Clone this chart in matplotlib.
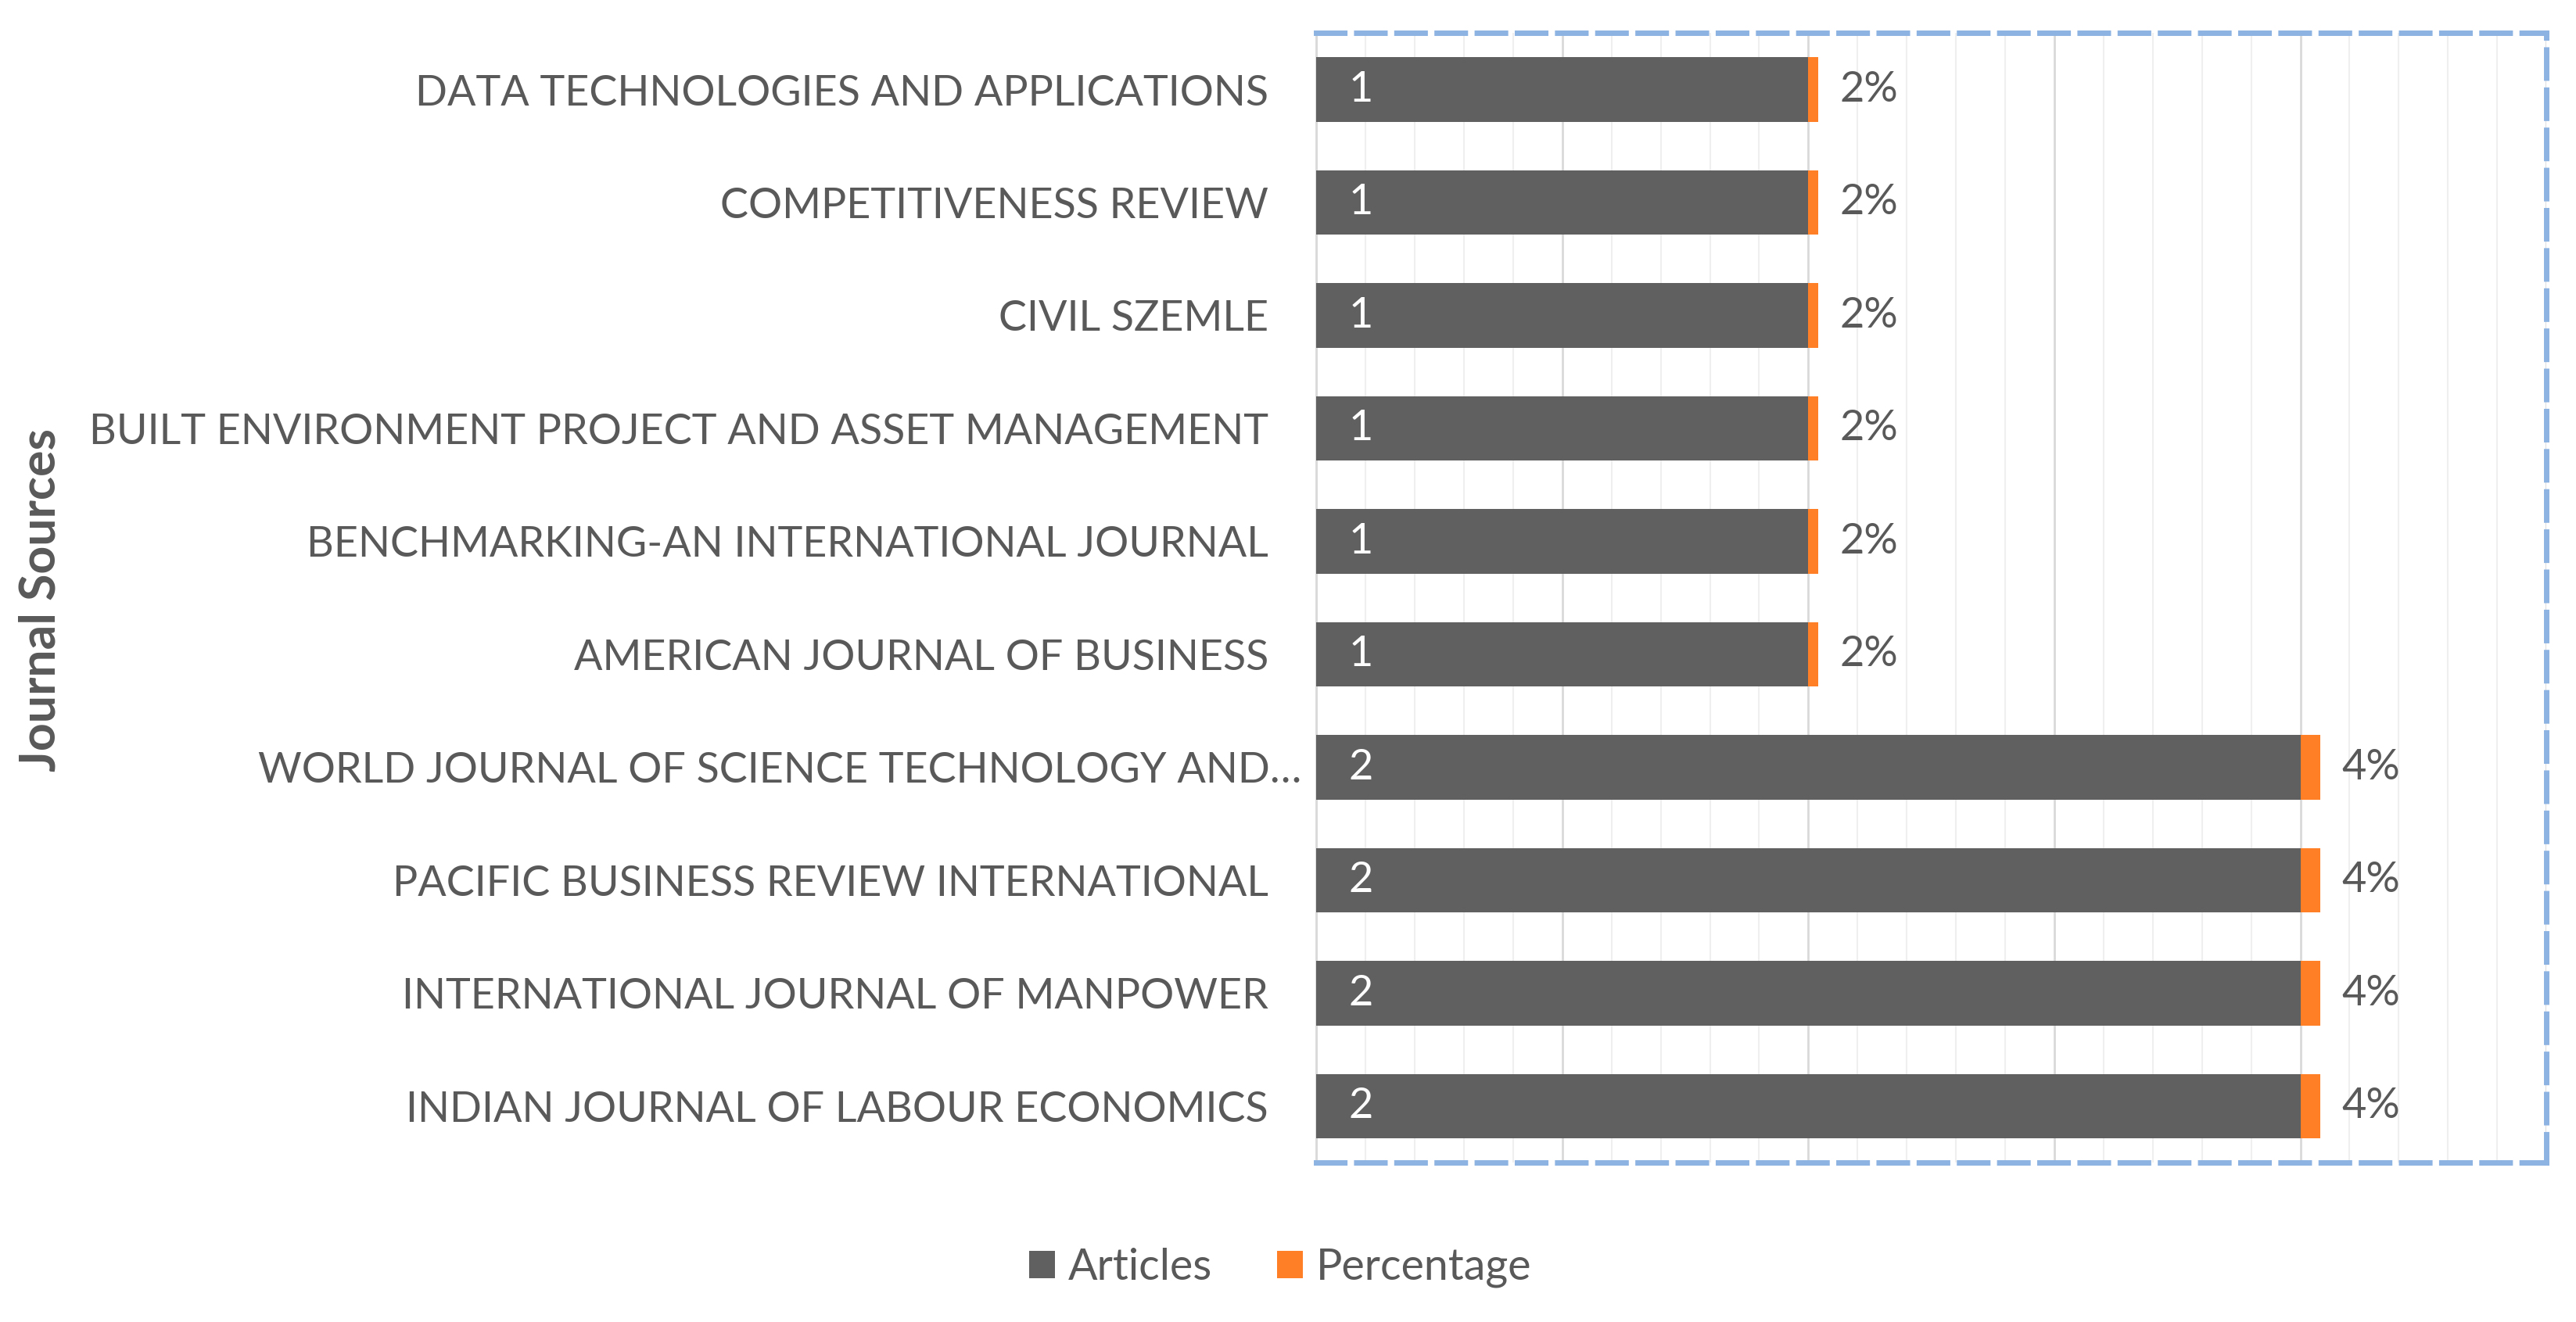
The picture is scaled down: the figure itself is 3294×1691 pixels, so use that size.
import numpy as np
import matplotlib
matplotlib.use("Agg")
from matplotlib import pyplot as plt
from matplotlib.ticker import MultipleLocator
from matplotlib.transforms import ScaledTranslation

# データ (下から上の順)
sources = [
    "INDIAN JOURNAL OF LABOUR ECONOMICS",
    "INTERNATIONAL JOURNAL OF MANPOWER",
    "PACIFIC BUSINESS REVIEW INTERNATIONAL",
    "WORLD JOURNAL OF SCIENCE TECHNOLOGY AND…",
    "AMERICAN JOURNAL OF BUSINESS",
    "BENCHMARKING-AN INTERNATIONAL JOURNAL",
    "BUILT ENVIRONMENT PROJECT AND ASSET MANAGEMENT",
    "CIVIL SZEMLE",
    "COMPETITIVENESS REVIEW",
    "DATA TECHNOLOGIES AND APPLICATIONS",
]
articles = [2, 2, 2, 2, 1, 1, 1, 1, 1, 1]
percentage = [4, 4, 4, 4, 2, 2, 2, 2, 2, 2]

plt.rcParams['font.family'] = ['Lato', 'DejaVu Sans']
text_color = "#595959"
bar_color = "#606060"
orange = "#FF7F27"
box_color = "#8DB3E2"

fig = plt.figure(figsize=(32.94, 16.91), dpi=100)
ax = fig.add_axes([0.511, 0.1206, 0.4775, 0.8544])

y = np.arange(len(sources))
pct_frac = np.array(percentage) / 100
ax.barh(y, articles, height=0.57, color=bar_color, label="Articles", zorder=3)
ax.barh(y, pct_frac, left=articles, height=0.57, color=orange, label="Percentage", zorder=3)

for yi, a, p in zip(y, articles, percentage):
    ax.annotate(str(a), (0, yi), xytext=(30, 0), textcoords="offset points",
                ha="left", va="center", color="white", fontsize=39, zorder=4)
    ax.annotate(f"{p}%", (a + p / 100, yi), xytext=(20, 0), textcoords="offset points",
                ha="left", va="center", color=text_color, fontsize=39, zorder=4)

ax.set_xlim(0, 2.5)
ax.set_ylim(-0.5, len(sources) - 0.5)
ax.xaxis.set_major_locator(MultipleLocator(0.5))
ax.xaxis.set_minor_locator(MultipleLocator(0.1))
ax.grid(axis="x", which="major", color="#d9d9d9", linewidth=2, zorder=0)
ax.grid(axis="x", which="minor", color="#efefef", linewidth=1.5, zorder=0)
ax.tick_params(axis="x", which="both", bottom=False, labelbottom=False)
ax.tick_params(axis="y", length=0, pad=44, labelsize=38.8, labelcolor=text_color)
ax.set_yticks(y)
ax.set_yticklabels(sources)

# 省略されたラベルは Excel と同じく少し右へはみ出す
for lab in ax.get_yticklabels():
    if lab.get_text().endswith("…"):
        lab.set_transform(lab.get_transform() + ScaledTranslation(0.42, 0, fig.dpi_scale_trans))

ax.spines["left"].set_color("#d9d9d9")
ax.spines["left"].set_linewidth(2)
for side in ["top", "right", "bottom"]:
    ax.spines[side].set_color(box_color)
    ax.spines[side].set_linewidth(5)
    ax.spines[side].set_linestyle((0, (5.2, 2.2)))

fig.text(0.0158, 0.546, "Journal Sources", rotation=90, ha="center", va="center",
         fontsize=45, fontweight="bold", color=text_color)

fig.legend(loc="center", bbox_to_anchor=(0.497, 0.041), ncol=2, frameon=False,
           fontsize=40, labelcolor=text_color, handlelength=0.6, handleheight=0.6,
           handletextpad=0.3, columnspacing=1.5)

fig.savefig("out.png", dpi=100)
